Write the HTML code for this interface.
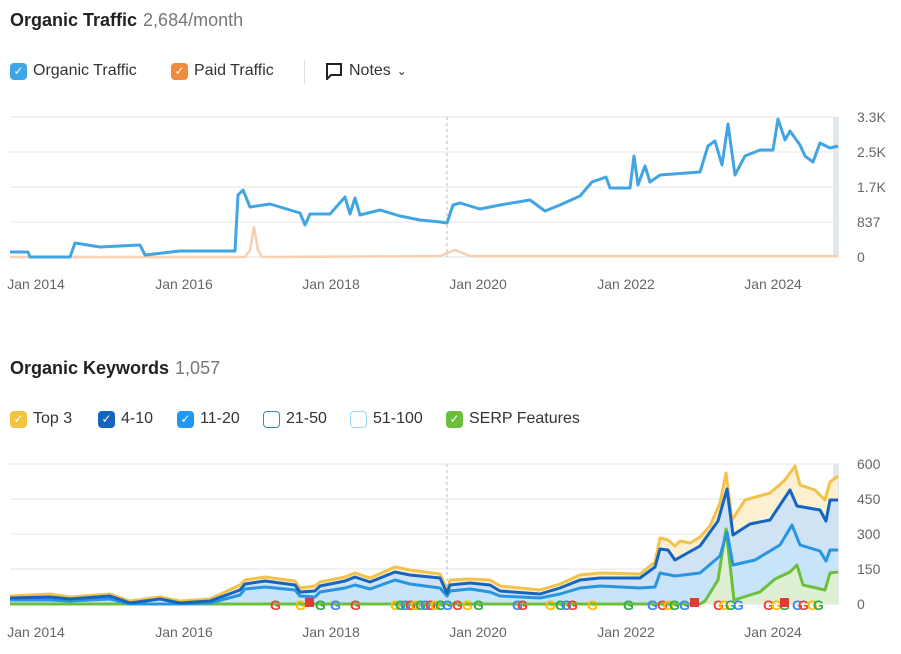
<!DOCTYPE html>
<html><head><meta charset="utf-8"><style>
body{margin:0;width:901px;height:654px;background:#fff;font-family:"Liberation Sans",sans-serif;position:relative;overflow:hidden}
.t{position:absolute;white-space:nowrap}
.h{font-weight:bold;font-size:18px;color:#222}
.h span{font-weight:normal;color:#777;margin-left:6px}
.lg{font-size:16px;color:#333;display:flex;align-items:center}
.cb{width:17px;height:17px;border-radius:4px;margin-right:6px;display:inline-flex;align-items:center;justify-content:center;color:#fff;font-size:12px;box-sizing:border-box}
</style></head><body>
<div class="t h" style="left:10px;top:10px">Organic Traffic<span>2,684/month</span></div>
<div class="t lg" style="left:10px;top:62px"><span class="cb" style="background:#3ca6e6">✓</span>Organic Traffic</div>
<div class="t lg" style="left:171px;top:62px"><span class="cb" style="background:#f08a3c">✓</span>Paid Traffic</div>
<div class="t" style="left:304px;top:60px;width:1px;height:24px;background:#ddd"></div>
<div class="t lg" style="left:325px;top:62px"><svg width="18" height="18" viewBox="0 0 18 18" style="margin-right:6px"><path d="M2 2h14v11H6l-4 4z" fill="none" stroke="#222" stroke-width="2"/></svg>Notes <span style="margin-left:6px;font-size:12px">⌄</span></div>

<div class="t h" style="left:10px;top:358px">Organic Keywords<span>1,057</span></div>
<div class="t lg" style="left:10px;top:410px"><span class="cb" style="background:#f5c342">✓</span>Top 3</div>
<div class="t lg" style="left:98px;top:410px"><span class="cb" style="background:#1565c0">✓</span>4-10</div>
<div class="t lg" style="left:177px;top:410px"><span class="cb" style="background:#2196f3">✓</span>11-20</div>
<div class="t lg" style="left:263px;top:410px"><span class="cb" style="border:1.5px solid #2a8fc9"></span>21-50</div>
<div class="t lg" style="left:350px;top:410px"><span class="cb" style="border:1.5px solid #9fd4ee"></span>51-100</div>
<div class="t lg" style="left:446px;top:410px"><span class="cb" style="background:#6bbf3b">✓</span>SERP Features</div>

<svg id="s" width="901" height="654" style="position:absolute;left:0;top:0"></svg>
<script>
const s=document.getElementById('s');let h='';
function grid(ys){ys.forEach(y=>h+=`<line x1="10" x2="838" y1="${y}" y2="${y}" stroke="#e5e5e5"/>`)}
grid([117,152,187,222,257]);grid([464,499,534,569,604]);
h+=`<line x1="447" x2="447" y1="117" y2="257" stroke="#bbb" stroke-dasharray="3,3"/><line x1="447" x2="447" y1="464" y2="604" stroke="#bbb" stroke-dasharray="3,3"/>`;
h+=`<rect x="833" y="117" width="6" height="140" fill="#e3e8ec"/><rect x="833" y="464" width="6" height="140" fill="#e3e8ec"/>`;
function P(a){return a.map((p,i)=>(i?'L':'M')+p[0]+' '+p[1]).join('')}
function area(a,b,c){h+=`<path d="${P(a)}L${a[a.length-1][0]} ${b}L${a[0][0]} ${b}Z" fill="${c}"/>`}
function line(a,c,w){h+=`<path d="${P(a)}" fill="none" stroke="${c}" stroke-width="${w||3}" stroke-linejoin="round"/>`}
const org=[[10,252],[28,252],[30,257],[70,257],[75,243],[100,247],[140,245],[145,255],[180,251],[235,251],[238,195],[243,190],[250,207],[270,204],[300,213],[305,225],[310,214],[330,214],[345,197],[350,214],[355,198],[360,215],[380,210],[400,216],[420,220],[440,222],[447,223],[453,205],[460,203],[480,209],[500,205],[530,200],[545,211],[560,205],[580,196],[592,182],[606,177],[610,188],[630,188],[634,156],[638,185],[645,166],[650,182],[660,175],[700,172],[708,146],[715,141],[722,165],[728,124],[735,175],[745,156],[760,150],[773,150],[778,119],[785,140],[790,131],[800,145],[805,156],[813,162],[820,143],[830,148],[838,146]];
const paid=[[10,257],[245,257],[250,250],[254,227],[258,250],[262,257],[440,256],[455,250],[470,256],[838,256]];
line(paid,'#f9cfae',2.5);line(org,'#41a5e1',3);
const y3=[[10,596],[50,594],[70,597],[110,594],[130,601],[160,597],[180,601],[210,599],[240,585],[245,580],[265,577],[295,581],[300,588],[315,586],[320,582],[345,577],[355,573],[370,578],[395,567],[410,570],[440,574],[447,590],[450,580],[470,579],[490,580],[500,586],[540,590],[560,584],[580,575],[600,573],[640,574],[655,562],[660,538],[668,540],[675,546],[680,541],[690,543],[700,537],[710,526],[720,503],[726,473],[732,520],[745,500],[770,493],[785,480],[795,466],[800,485],[815,490],[825,500],[830,482],[838,476]];
const d=[[10,598],[50,597],[70,599],[110,596],[130,603],[160,599],[180,603],[210,601],[240,590],[245,584],[265,581],[295,585],[300,592],[315,591],[320,586],[345,581],[355,577],[370,582],[395,572],[410,575],[440,578],[447,593],[450,585],[470,583],[490,585],[500,591],[540,594],[560,588],[580,580],[600,578],[640,578],[655,567],[660,549],[668,550],[675,560],[700,546],[718,521],[727,489],[733,535],[750,524],[770,520],[790,490],[797,506],[820,510],[826,521],[830,500],[838,500]];
const b=[[10,600],[50,600],[70,601],[110,599],[130,604],[180,604],[210,603],[240,595],[245,589],[265,587],[295,590],[300,596],[315,597],[320,592],[345,588],[355,585],[370,589],[395,580],[410,584],[440,588],[447,596],[450,591],[470,589],[490,592],[500,596],[540,598],[560,594],[580,588],[600,586],[640,588],[655,587],[660,573],[675,576],[700,573],[720,556],[727,532],[733,565],[755,560],[780,545],[792,525],[800,545],[820,551],[826,561],[830,550],[838,550]];
const g=[[10,604],[700,604],[705,601],[718,580],[726,529],[734,600],[760,592],[775,579],[790,572],[797,565],[803,585],[825,590],[830,573],[838,572]];
area(y3,604,'#fcefd2');area(d,604,'#cfe3f5');area(b,604,'#c8e4f8');area(g,604,'#dff0d2');
line(g,'#6bbf3b');line(y3,'#f2c24a');line(b,'#2795e0');line(d,'#1565c0');
const cols=['#ea4335','#fbbc05','#34a853','#4285f4'];
[275,300,320,335,355,395,400,405,410,415,420,425,430,435,440,447,457,467,478,517,522,550,560,566,572,592,628,652,662,668,674,684,718,724,730,738,768,776,784,797,803,812,818].forEach((x,i)=>h+=`<text x="${x-5}" y="610" font-size="14" font-weight="bold" fill="${cols[i%4]}" font-family="Liberation Sans,sans-serif">G</text>`);
[[305,598],[690,598],[780,598]].forEach(p=>h+=`<rect x="${p[0]}" y="${p[1]}" width="9" height="9" fill="#e53935"/>`);
const xl=[[36,'Jan 2014'],[184,'Jan 2016'],[331,'Jan 2018'],[478,'Jan 2020'],[626,'Jan 2022'],[773,'Jan 2024']];
xl.forEach(l=>{h+=`<text x="${l[0]}" y="289" text-anchor="middle" font-size="14" fill="#666" font-family="Liberation Sans,sans-serif">${l[1]}</text><text x="${l[0]}" y="637" text-anchor="middle" font-size="14" fill="#666" font-family="Liberation Sans,sans-serif">${l[1]}</text>`});
[['3.3K',117],['2.5K',152],['1.7K',187],['837',222],['0',257],['600',464],['450',499],['300',534],['150',569],['0',604]].forEach(l=>h+=`<text x="857" y="${l[1]+5}" font-size="14" fill="#666" font-family="Liberation Sans,sans-serif">${l[0]}</text>`);
s.innerHTML=h;
</script>
</body></html>
